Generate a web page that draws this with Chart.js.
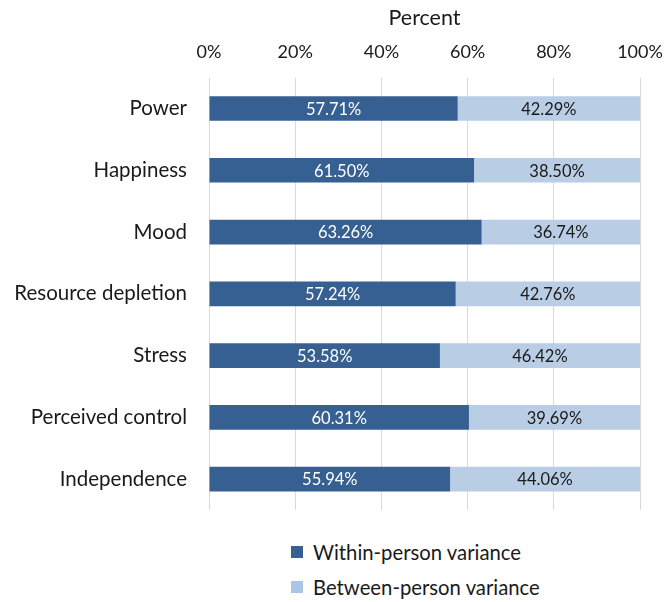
<!DOCTYPE html>
<html><head><meta charset="utf-8">
<script src="https://cdn.jsdelivr.net/npm/chart.js@4"></script>
<style>
html,body{margin:0;padding:0;background:#fff;}
#wrap{position:relative;width:665px;height:602px;}
#cv{position:absolute;left:0;top:0;}
#legend{position:absolute;left:291px;top:534px;font-family:Lato,"Open Sans",sans-serif;font-size:20.3px;color:#1a1a1a;}
#legend .it{display:flex;align-items:center;height:35px;}
#legend .sw{width:12px;height:12px;margin-right:10px;}
</style></head>
<body>
<div id="wrap"><canvas id="cv" width="665" height="530"></canvas><div id="legend"></div></div>
<script>
const categories = ["Power","Happiness","Mood","Resource depletion","Stress","Perceived control","Independence"];
const withinPerson = [57.71,61.50,63.26,57.24,53.58,60.31,55.94];
const betweenPerson = [42.29,38.50,36.74,42.76,46.42,39.69,44.06];
const seriesNames = ["Within-person variance","Between-person variance"];
const tickValues = [0,20,40,60,80,100];

const FONT = 'Lato, "Open Sans", sans-serif';
const colors = ["#376092","#B9CDE5"];
const legendColors = ["#376092","#A9C6E6"];
const labelColors = ["#ffffff","#1a1a1a"];

const valueLabels = {
  id:'valueLabels',
  afterDatasetsDraw(chart){
    const ctx = chart.ctx;
    ctx.save();
    ctx.font = '16.5px ' + FONT;
    ctx.textAlign='center'; ctx.textBaseline='middle';
    chart.data.datasets.forEach((ds,di)=>{
      const meta = chart.getDatasetMeta(di);
      meta.data.forEach((bar,i)=>{
        const cx = (bar.x + bar.base)/2;
        ctx.fillStyle = labelColors[di];
        ctx.fillText(ds.data[i].toFixed(2)+'%', cx, bar.y+1);
      });
    });
    ctx.restore();
  }
};

const chart = new Chart(document.getElementById('cv'),{
  type:'bar',
  data:{labels:categories,datasets:[
    {label:seriesNames[0],data:withinPerson,backgroundColor:colors[0],borderWidth:0,barPercentage:0.4,categoryPercentage:1},
    {label:seriesNames[1],data:betweenPerson,backgroundColor:colors[1],borderWidth:0,barPercentage:0.4,categoryPercentage:1}
  ]},
  options:{
    indexAxis:'y',responsive:false,animation:false,
    layout:{padding:{left:0,right:25,top:0,bottom:20}},
    plugins:{legend:{display:false},tooltip:{enabled:false}},
    scales:{
      x:{position:'top',stacked:true,min:0,max:100,
        afterBuildTicks(s){s.ticks = tickValues.map(v=>({value:v}));},
        afterFit(s){s.paddingRight=0;s.paddingLeft=0;},
        ticks:{callback:v=>v+'%',color:'#1a1a1a',font:{family:FONT,size:18},padding:15,maxRotation:0},
        grid:{color:'#d9d9d9',lineWidth:1,drawTicks:false},
        border:{display:false},
        title:{display:true,text:'Percent',color:'#1a1a1a',font:{family:FONT,size:21.5,lineHeight:1},padding:{top:7,bottom:-2.5}}
      },
      y:{stacked:true,
        afterFit(s){s.width=209;s.paddingTop=0;s.paddingBottom=0;},
        ticks:{color:'#1a1a1a',font:{family:FONT,size:20.5},padding:22},
        grid:{display:false,drawTicks:false},
        border:{display:false}
      }
    }
  },
  plugins:[valueLabels]
});

const lg = document.getElementById('legend');
chart.data.datasets.forEach((ds,i)=>{
  const d=document.createElement('div');d.className='it';
  const sw=document.createElement('span');sw.className='sw';sw.style.background=legendColors[i];
  const t=document.createElement('span');t.textContent=ds.label;
  d.appendChild(sw);d.appendChild(t);lg.appendChild(d);
});
</script>
</body></html>
